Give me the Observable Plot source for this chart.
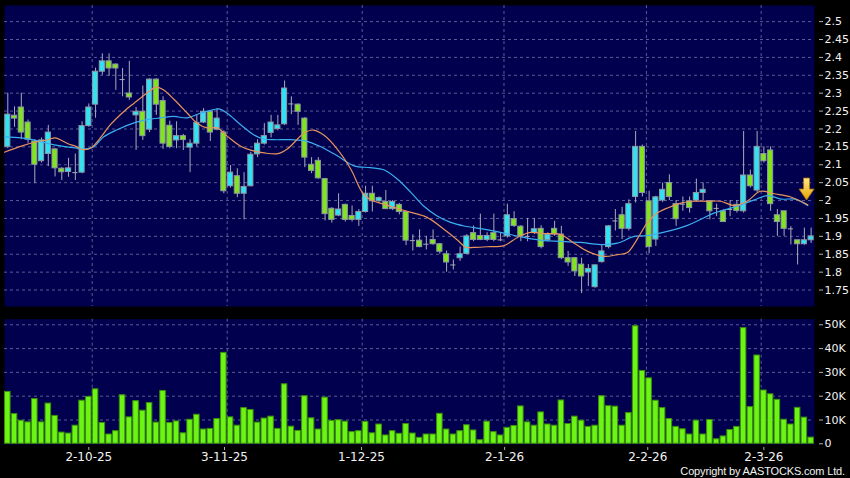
<!DOCTYPE html>
<html><head><meta charset="utf-8">
<script src="https://cdn.jsdelivr.net/npm/d3@7"></script>
<script src="https://cdn.jsdelivr.net/npm/@observablehq/plot@0.6"></script>
<style>
html,body{margin:0;padding:0;background:#000;width:850px;height:478px;overflow:hidden}
#chart{position:relative;width:850px;height:478px}
#chart svg{display:block}
#copy{position:absolute;right:5px;top:465.5px;font:11px "Liberation Sans",Arial,sans-serif;line-height:11px;color:#f2f2f2;white-space:nowrap;letter-spacing:-0.15px}
</style></head><body><div id="chart"><div id="copy">Copyright by AASTOCKS.com Ltd.</div></div>
<script>
// ---- data ----
const open = [
 2.15,2.237,2.26,2.218,2.165,2.11,2.13,2.143,2.089,2.08,
 2.078,2.078,2.208,2.268,2.36,2.389,2.38,2.338,2.299,2.238,
 2.248,2.198,2.338,2.278,2.209,2.168,2.18,2.148,2.159,2.218,
 2.248,2.198,2.19,2.04,2.068,2.019,2.04,2.129,2.159,2.189,
 2.2,2.213,2.27,2.268,2.229,2.1,2.111,2.06,1.977,1.958,
 1.988,1.957,1.946,1.968,2.019,1.998,1.996,1.976,1.988,1.968,
 1.888,1.888,1.878,1.89,1.878,1.85,1.82,1.839,1.851,1.909,
 1.901,1.89,1.909,1.89,1.90,1.948,1.927,1.90,1.909,1.921,
 1.889,1.921,1.905,1.839,1.839,1.821,1.799,1.758,1.828,1.87,
 1.943,1.959,1.921,2.01,2.15,1.998,1.891,2.0,2.049,1.99,
 1.99,1.998,2.0,2.021,1.998,1.978,1.97,1.975,1.988,1.97,
 2.07,2.028,2.13,2.14,1.959,1.97,1.921,1.889,1.878,1.889];
const high = [
 2.30,2.262,2.30,2.225,2.17,2.175,2.21,2.145,2.092,2.118,
 2.13,2.22,2.27,2.37,2.41,2.41,2.382,2.369,2.389,2.26,
 2.32,2.34,2.34,2.29,2.222,2.22,2.185,2.17,2.238,2.257,
 2.25,2.257,2.195,2.098,2.089,2.078,2.135,2.17,2.215,2.238,
 2.238,2.334,2.29,2.27,2.232,2.12,2.12,2.062,1.98,2.019,
 1.99,1.985,1.975,2.04,2.04,2.01,2.028,2.0,1.992,1.97,
 1.904,1.918,1.9,1.918,1.88,1.859,1.834,1.87,1.905,1.929,
 1.962,1.91,1.962,1.91,1.99,1.969,1.93,1.95,1.95,1.93,
 1.91,1.942,1.928,1.858,1.84,1.839,1.821,1.82,1.877,1.93,
 1.975,1.981,2.002,2.193,2.155,2.026,2.012,2.049,2.072,2.0,
 2.01,2.01,2.06,2.049,2.0,1.99,1.975,2.0,2.0,2.193,
 2.085,2.193,2.15,2.15,1.975,1.97,1.927,1.889,1.923,1.923];
const low = [
 2.145,2.205,2.17,2.16,2.047,2.105,2.095,2.066,2.056,2.065,
 2.056,2.075,2.205,2.23,2.35,2.347,2.308,2.29,2.28,2.14,
 2.168,2.19,2.238,2.143,2.145,2.145,2.14,2.078,2.15,2.215,
 2.165,2.195,2.019,2.035,2.008,1.946,2.038,2.12,2.155,2.175,
 2.195,2.21,2.24,2.21,2.092,2.075,2.06,1.943,1.937,1.955,
 1.94,1.94,1.928,1.965,1.968,1.995,1.975,1.972,1.96,1.874,
 1.859,1.868,1.862,1.875,1.85,1.80,1.806,1.83,1.85,1.885,
 1.888,1.885,1.885,1.885,1.895,1.925,1.885,1.885,1.905,1.865,
 1.885,1.9,1.835,1.816,1.788,1.74,1.76,1.755,1.825,1.865,
 1.915,1.891,1.915,1.993,2.01,1.851,1.872,1.995,2.0,1.928,
 1.97,1.965,1.995,2.0,1.946,1.955,1.94,1.955,1.965,1.965,
 2.035,2.02,2.105,1.97,1.90,1.90,1.876,1.82,1.875,1.88];
const close = [
 2.24,2.229,2.19,2.17,2.10,2.168,2.19,2.09,2.079,2.09,
 2.078,2.208,2.26,2.36,2.389,2.369,2.369,2.338,2.288,2.248,
 2.18,2.338,2.268,2.159,2.15,2.18,2.169,2.159,2.217,2.248,
 2.19,2.229,2.026,2.078,2.019,2.038,2.128,2.159,2.18,2.218,
 2.21,2.313,2.27,2.248,2.12,2.083,2.062,1.962,1.946,1.975,
 1.946,1.946,1.968,2.019,1.998,2.007,1.976,1.996,1.968,1.888,
 1.888,1.870,1.878,1.878,1.857,1.827,1.82,1.85,1.90,1.89,
 1.89,1.901,1.89,1.89,1.959,1.929,1.90,1.90,1.92,1.870,
 1.905,1.905,1.839,1.827,1.802,1.788,1.809,1.819,1.858,1.928,
 1.943,1.921,1.99,2.15,2.021,1.870,2.009,2.03,2.01,1.948,
 1.99,1.979,2.021,2.03,1.97,1.978,1.94,1.975,1.971,2.07,
 2.04,2.15,2.11,1.99,1.94,1.921,1.921,1.878,1.889,1.90];
const volumeK = [
 21.8,12.5,9.7,9.0,18.8,9.0,16.9,11.7,4.7,4.3,
 7.6,18.1,19.7,22.9,8.75,3.9,5.3,20.4,11.1,17.9,
 13.9,17.1,8.9,22.2,8.75,9.4,4.4,10.1,12.2,6.0,
 6.25,10.4,38.2,11.1,7.6,15.0,14.2,8.9,10.6,11.4,
 6.25,25.0,7.2,5.4,20.0,10.7,6.0,19.4,9.6,9.9,
 9.3,4.9,5.3,9.2,4.4,8.1,3.5,5.3,4.2,8.3,
 4.3,2.5,3.9,3.9,12.6,6.0,3.9,5.3,7.8,5.6,
 1.5,9.3,4.9,3.5,6.7,7.5,15.7,9.0,7.6,13.2,
 8.1,7.6,18.2,8.3,11.4,9.7,7.1,7.6,20.0,15.8,
 15.6,7.6,12.9,49.4,30.6,27.5,18.1,15.0,10.4,7.1,
 6.1,3.9,9.7,3.9,10.0,1.9,3.1,5.8,7.1,48.6,
 15.4,37.1,22.4,20.8,18.5,10.1,8.1,15.1,11.0,2.6];
// moving averages: [bar position, value]
const maShort = [
 [-0.5,2.135],[2,2.152],[4,2.163],[6,2.17],[7,2.175],[9,2.158],[10,2.152],[11,2.143],[12.3,2.147],
 [13.7,2.175],[15.2,2.212],[17.2,2.249],[18.7,2.272],[20.6,2.30],[22,2.317],[23.1,2.309],[24.6,2.283],
 [26.6,2.244],[28,2.217],[29.5,2.203],[31,2.203],[32.5,2.18],[34.5,2.152],[36,2.141],[38,2.133],
 [40,2.131],[41.4,2.144],[44,2.19],[45.3,2.197],[46.8,2.183],[48.8,2.144],[50.8,2.088],[52.5,2.023],
 [53.7,2.002],[55.7,1.99],[57.7,1.978],[59.7,1.967],[62.1,1.953],[64.6,1.92],[66.6,1.89],[67.8,1.87],
 [69,1.869],[71,1.871],[73.5,1.874],[75.5,1.897],[77.4,1.911],[79.4,1.908],[81.9,1.905],[83.9,1.881],
 [85.9,1.858],[88.3,1.844],[90.3,1.849],[91.8,1.855],[93.2,1.891],[94.7,1.937],[96.2,1.965],[97.7,1.979],
 [99.7,1.993],[101.7,1.998],[103.6,1.998],[105.6,1.998],[107.6,1.986],[109.5,1.998],[111.5,2.026],
 [113.5,2.019],[116,2.01],[118.5,1.988]];
const maLong = [
 [-0.5,2.178],[2,2.175],[4,2.169],[6,2.159],[8,2.152],[10,2.147],[11,2.143],[12.7,2.15],[14.2,2.178],
 [16.2,2.198],[18.7,2.217],[20.6,2.226],[22.6,2.231],[24.6,2.235],[26.6,2.231],[28.5,2.244],[30.5,2.254],
 [31.3,2.256],[32.5,2.244],[34.5,2.212],[36.4,2.184],[37.9,2.172],[39.4,2.17],[41.9,2.17],[44,2.167],
 [46.3,2.151],[48.8,2.125],[51.3,2.097],[53.7,2.092],[55.7,2.086],[57.7,2.06],[59.7,2.023],[61.6,1.985],
 [63.6,1.957],[65.6,1.939],[67.6,1.929],[70.5,1.92],[73.5,1.909],[76.4,1.897],[79.4,1.888],[81.9,1.886],
 [84.8,1.883],[87.8,1.877],[90.3,1.881],[92.8,1.90],[94.7,1.902],[97.7,1.914],[100.6,1.93],[102.6,1.947],
 [104.6,1.965],[106.6,1.976],[108.6,1.988],[110.6,2.002],[112.6,2.014],[114.6,2.004],[116.6,2.004],[118.5,1.986]];
const xTickBars = [12, 32.1, 52.4, 73.6, 94.8, 112];
const xTickLabels = ["2-10-25", "3-11-25", "1-12-25", "2-1-26", "2-2-26", "2-3-26"];
const xGridBars = [12.5, 32.5, 52.5, 73.5, 94.6, 111.6];
const priceTicks = [1.75,1.8,1.85,1.9,1.95,2,2.05,2.1,2.15,2.2,2.25,2.3,2.35,2.4,2.45,2.5];
const volTicks = [0,10,20,30,40,50];
const volTickLabels = ["0","10K","20K","30K","40K","50K"];
const arrowAt = [118.4, 2.0];

// ---- styles ----
const NAVY = "#00004e", GRID = "#5a5a94", UP = "#30e2f2", DOWN = "#80e41e", EDGE = "#8f98a4";
const WICK = "#a9abb8", TXT = "#f2f2f2", TICK = "#b0b0b0";
const bars = open.map((o, i) => ({i, open: o, high: high[i], low: low[i], close: close[i], vol: volumeK[i]}));
const xDomain = [-0.49, 119.5];
const font = {fontFamily: "DejaVu Sans, sans-serif", background: "transparent", color: TXT, overflow: "visible"};

const arrowMark = (index, scales) => {
  const g = d3.create("svg:g");
  const x = scales.x(arrowAt[0]), y = scales.y(arrowAt[1]);
  const defs = g.append("defs");
  const lg = defs.append("linearGradient").attr("id", "arrowGrad").attr("x1", 0).attr("x2", 0).attr("y1", 0).attr("y2", 1);
  lg.append("stop").attr("offset", "0%").attr("stop-color", "#ffe98a");
  lg.append("stop").attr("offset", "100%").attr("stop-color", "#e6a100");
  g.append("path")
    .attr("d", `M${x},${y} L${x-7.5},${y-11} L${x-3},${y-11} L${x-3},${y-22} L${x+3},${y-22} L${x+3},${y-11} L${x+7.5},${y-11} Z`)
    .attr("fill", "url(#arrowGrad)").attr("stroke", "#a87400").attr("stroke-width", 0.8);
  return g.node();
};

const price = Plot.plot({
  width: 850, height: 312,
  marginTop: 5, marginBottom: 6, marginLeft: 4, marginRight: 36,
  style: {...font, fontSize: "11px"},
  x: {domain: xDomain, axis: null},
  y: {domain: [1.704, 2.545], axis: null},
  marks: [
    Plot.frame({fill: NAVY, stroke: "none"}),
    Plot.gridY(priceTicks, {stroke: GRID, strokeOpacity: 1, strokeDasharray: "3,3"}),
    Plot.ruleX(xGridBars, {stroke: GRID, strokeOpacity: 1, strokeDasharray: "3,3"}),
    Plot.ruleX(bars, {x: "i", y1: "low", y2: "high", stroke: WICK, strokeWidth: 1}),
    Plot.rect(bars.filter(d => d.open !== d.close), {
      x1: d => d.i - 0.38, x2: d => d.i + 0.38, y1: "open", y2: "close",
      fill: d => d.close > d.open ? UP : DOWN, stroke: EDGE, strokeWidth: 1}),
    Plot.ruleY(bars.filter(d => d.open === d.close), {y: "close", x1: d => d.i - 0.38, x2: d => d.i + 0.38, stroke: WICK}),
    Plot.line(maLong, {x: d => d[0], y: d => d[1], stroke: "#3aaef0", strokeWidth: 1.2, curve: "catmull-rom", clip: true}),
    Plot.line(maShort, {x: d => d[0], y: d => d[1], stroke: "#e8935c", strokeWidth: 1.2, curve: "catmull-rom", clip: true}),
    arrowMark,
    Plot.axisY(priceTicks, {anchor: "right", label: null, tickSize: 4, tickPadding: 2, dx: 4, stroke: TICK, fill: TXT,
      tickFormat: d => String(+d.toFixed(2)), fontSize: 11})
  ]
});

const vol = Plot.plot({
  width: 850, height: 166,
  marginTop: 6.7, marginBottom: 34, marginLeft: 4, marginRight: 36,
  style: {...font, fontSize: "12px"},
  x: {domain: xDomain, axis: null},
  y: {domain: [-0.3, 52.35], axis: null},
  marks: [
    Plot.frame({fill: NAVY, stroke: "none"}),
    Plot.gridY(volTicks.slice(1), {stroke: GRID, strokeOpacity: 1, strokeDasharray: "3,3"}),
    Plot.ruleX(xGridBars, {stroke: GRID, strokeOpacity: 1, strokeDasharray: "3,3"}),
    Plot.rect(bars, {x1: d => d.i - 0.41, x2: d => d.i + 0.41, y1: 0, y2: "vol", fill: "#6cf414", stroke: "#3b8f0c", strokeWidth: 1}),
    Plot.axisY(volTicks, {anchor: "right", label: null, tickSize: 4, tickPadding: 2, dx: 4, stroke: TICK, fill: TXT,
      tickFormat: (d, i) => volTickLabels[i], fontSize: 11}),
    Plot.axisX(xTickBars, {anchor: "bottom", label: null, tickSize: 3, tickPadding: 2, dy: 3, stroke: TICK, fill: TXT,
      tickFormat: (d, i) => xTickLabels[i], fontSize: 12})
  ]
});

const chart = document.getElementById("chart");
chart.insertBefore(vol, chart.firstChild);
chart.insertBefore(price, vol);
</script></body></html>
